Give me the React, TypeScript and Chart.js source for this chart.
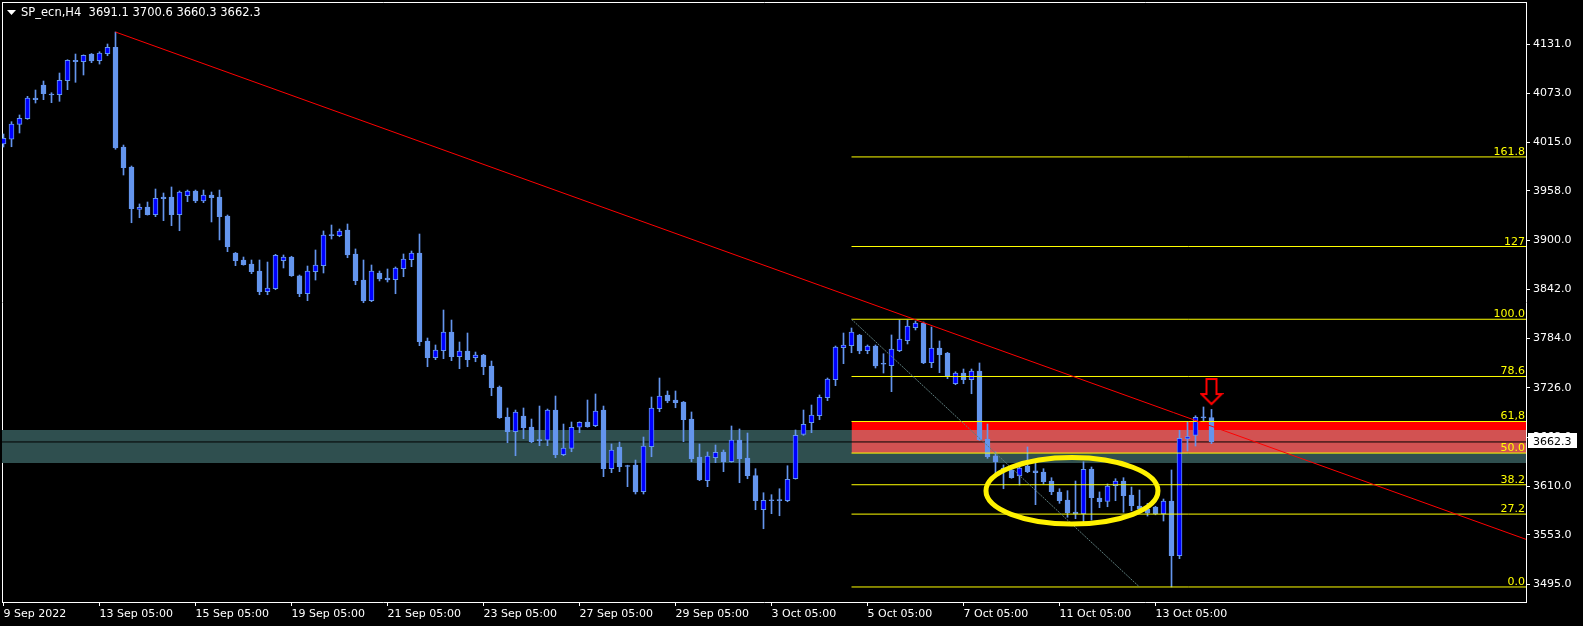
import React, { useEffect, useRef } from "react";
import { Chart, registerables } from "chart.js";
Chart.register(...registerables);

// ---- OHLC data (H4 bars, SP_ecn) ----
const opens = [4013.2,4018.8,4036.4,4043.0,4067.4,4082.7,4072.1,4071.3,4087.8,4111.8,4110.2,4119.2,4111.3,4119.6,4127.1,4009.7,3986.1,3936.3,3939.0,3930.0,3950.8,3950.8,3930.0,3952.3,3957.9,3946.1,3953.2,3950.8,3928.4,3884.8,3876.6,3871.9,3863.6,3839.3,3842.8,3875.8,3880.1,3858.1,3836.9,3862.8,3869.9,3906.6,3905.2,3911.9,3883.7,3853.0,3828.7,3861.3,3855.4,3853.4,3866.4,3877.0,3884.8,3781.2,3761.5,3769.8,3791.8,3762.7,3769.4,3761.5,3764.7,3751.8,3727.0,3691.7,3674.4,3692.9,3679.9,3665.0,3664.3,3699.9,3647.3,3654.8,3679.6,3685.8,3681.4,3699.9,3630.8,3656.4,3634.6,3635.2,3603.7,3656.7,3701.5,3717.6,3711.7,3709.4,3689.3,3644.6,3616.7,3643.8,3650.5,3639.0,3664.6,3643.4,3622.6,3582.5,3594.2,3594.4,3593.1,3619.0,3671.3,3685.0,3693.2,3714.4,3735.6,3773.3,3775.7,3788.3,3769.8,3775.3,3755.0,3752.1,3769.8,3781.6,3796.9,3802.4,3755.6,3773.0,3767.1,3730.9,3743.5,3735.6,3745.9,3665.8,3646.1,3631.6,3629.3,3622.2,3634.0,3628.4,3626.9,3616.3,3603.4,3593.9,3579.8,3577.4,3630.4,3596.3,3592.4,3610.8,3616.3,3599.8,3586.9,3583.0,3585.7,3577.4,3592.8,3528.3,3665.8,3670.1,3691.8,3691.1];
const highs = [4025.0,4039.5,4047.4,4069.4,4076.8,4087.4,4073.6,4096.8,4112.5,4119.2,4118.2,4119.8,4121.9,4131.0,4145.1,4012.0,3987.3,3942.6,3944.9,3960.2,3955.5,3962.6,3957.9,3959.0,3959.0,3959.0,3956.7,3959.0,3929.6,3885.5,3880.1,3876.6,3876.6,3874.2,3883.3,3882.5,3881.0,3858.9,3869.5,3888.4,3910.8,3917.8,3913.1,3919.0,3889.6,3876.6,3870.7,3863.6,3866.0,3868.4,3883.7,3887.2,3907.2,3784.7,3776.5,3817.7,3805.9,3780.0,3790.6,3768.2,3765.5,3757.6,3728.2,3702.3,3699.9,3702.3,3689.3,3704.6,3701.1,3716.4,3683.4,3685.8,3686.0,3711.7,3718.8,3704.6,3659.9,3662.2,3634.9,3641.0,3668.1,3715.2,3737.6,3722.3,3722.3,3710.0,3697.6,3659.9,3650.5,3658.7,3652.8,3681.1,3677.6,3672.8,3630.8,3602.5,3600.2,3607.2,3634.3,3676.4,3699.9,3705.8,3717.6,3737.6,3775.3,3790.6,3796.5,3789.0,3776.5,3776.5,3766.2,3788.3,3805.9,3805.9,3804.8,3803.6,3797.7,3781.2,3767.8,3745.0,3748.2,3748.2,3755.3,3683.4,3650.5,3635.2,3634.0,3635.2,3656.4,3640.2,3630.8,3620.2,3607.2,3604.9,3616.3,3639.0,3632.8,3603.4,3612.8,3619.0,3620.2,3609.2,3605.7,3590.0,3586.5,3595.1,3629.3,3676.0,3686.2,3693.2,3703.5,3700.6];
const lows = [4009.7,4010.0,4026.2,4042.3,4061.5,4065.4,4061.9,4063.5,4077.2,4085.9,4094.5,4109.0,4107.4,4117.2,4007.0,3976.7,3920.5,3926.4,3929.5,3927.6,3922.9,3917.0,3911.1,3945.3,3944.1,3944.1,3921.4,3900.2,3886.4,3869.9,3870.5,3860.5,3835.7,3835.7,3841.6,3867.2,3857.3,3833.4,3828.7,3853.0,3861.3,3901.3,3904.0,3879.3,3847.5,3826.3,3827.5,3851.9,3850.7,3836.9,3856.9,3868.7,3775.7,3750.9,3759.2,3760.4,3758.0,3748.6,3750.9,3756.8,3741.5,3716.8,3690.0,3661.4,3646.1,3666.1,3661.4,3657.9,3657.9,3643.8,3646.1,3650.8,3673.2,3679.6,3680.3,3621.4,3626.1,3627.3,3609.6,3601.0,3601.0,3644.9,3697.9,3708.5,3702.6,3662.6,3639.0,3616.7,3609.6,3637.9,3627.3,3638.5,3614.3,3619.0,3582.5,3560.1,3577.8,3575.4,3591.9,3618.5,3670.1,3673.2,3688.5,3710.9,3728.6,3754.5,3767.4,3766.2,3766.2,3749.4,3743.5,3721.5,3768.6,3777.7,3794.2,3754.5,3749.8,3743.9,3736.8,3729.7,3730.9,3719.1,3664.2,3643.0,3626.1,3607.2,3619.5,3611.6,3626.1,3588.4,3612.8,3600.2,3590.0,3573.6,3571.9,3568.0,3570.4,3584.9,3586.0,3593.1,3579.5,3581.3,3582.2,3575.0,3576.5,3569.2,3491.5,3524.8,3651.6,3657.5,3687.3,3660.3];
const closes = [4019.9,4036.8,4043.5,4067.4,4065.4,4072.5,4070.9,4088.2,4111.8,4110.2,4117.7,4111.0,4120.4,4127.1,4008.5,3985.3,3937.0,3938.7,3930.0,3949.3,3948.8,3930.0,3956.7,3957.9,3946.1,3953.2,3950.0,3927.6,3892.3,3875.8,3871.1,3862.8,3839.3,3843.6,3882.1,3880.1,3858.1,3836.9,3863.6,3870.7,3906.0,3905.4,3910.8,3882.5,3852.2,3828.3,3863.6,3854.2,3853.0,3867.2,3877.8,3884.8,3780.4,3761.5,3770.6,3791.8,3762.7,3769.4,3759.2,3764.7,3750.9,3726.2,3690.9,3674.4,3697.6,3679.1,3662.6,3663.8,3699.9,3647.3,3655.2,3679.6,3685.4,3680.3,3698.8,3630.8,3652.8,3633.2,3633.4,3603.4,3657.5,3702.3,3716.4,3710.5,3708.5,3688.5,3642.6,3617.5,3645.8,3650.1,3639.0,3664.6,3642.6,3622.6,3593.1,3593.6,3593.0,3593.2,3618.3,3670.1,3683.1,3694.0,3714.9,3736.4,3774.1,3776.5,3791.8,3769.4,3775.3,3751.8,3753.8,3771.8,3783.6,3798.9,3802.4,3755.3,3773.0,3765.1,3740.0,3743.5,3735.6,3745.9,3665.0,3644.9,3638.7,3626.9,3620.2,3631.6,3627.3,3626.1,3615.5,3603.7,3593.1,3579.0,3577.4,3630.1,3596.6,3591.9,3610.4,3616.3,3599.0,3587.2,3583.0,3578.5,3577.4,3592.8,3528.3,3666.6,3668.7,3691.3,3690.6,3662.3];

// ---- axis ticks ----
const xTickIndex = [0, 12, 24, 36, 48, 60, 72, 84, 96, 108, 120, 132, 144];
const xTickLabels = ["9 Sep 2022", "13 Sep 05:00", "15 Sep 05:00", "19 Sep 05:00", "21 Sep 05:00", "23 Sep 05:00", "27 Sep 05:00", "29 Sep 05:00", "3 Oct 05:00", "5 Oct 05:00", "7 Oct 05:00", "11 Oct 05:00", "13 Oct 05:00"];
const yTickValues = [4131, 4073, 4015, 3958, 3900, 3842, 3784, 3726, 3668, 3610, 3553, 3495];

// ---- objects ----
const fibLevels = [3491.5, 3577.3, 3611.9, 3649.2, 3686.4, 3739.4, 3806.8, 3892.5, 3998.0];
const fibLabels = ["0.0", "27.2", "38.2", "50.0", "61,8", "78.6", "100.0", "127", "161.8"];
const fibStartBar = 106;
const fibTrend = [{ x: 106, y: 3806.8 }, { x: 142, y: 3491.5 }];
const trendLine = [{ x: 14, y: 4145.1 }, { x: 190.3125, y: 3547.6 }];
const bandZone = [3676.4, 3637.5];
const redZone = [3686.4, 3649.2];
const bidPrice = 3662.3;
const ellipseMark = { x: 133.56, y: 3604.8, rx: 10.75, ry: 39.2 };
const arrowMark = [{ x: 151, y: 3721.1 }];
const headerText = "SP_ecn,H4  3691.1 3700.6 3660.3 3662.3";

const X_MIN = -0.1875;
const X_MAX = 190.3125;
const Y_MIN = 3473.8;
const Y_MAX = 4180.47;

const FONT = "DejaVu Sans";
const BULL = "#0000FF";
const BEAR = "#6495ED";

const noPad = (s: any) => {
  s.paddingLeft = 0;
  s.paddingRight = 0;
  s.paddingTop = 0;
  s.paddingBottom = 0;
};

export default function App() {
  const ref = useRef<HTMLCanvasElement>(null);
  useEffect(() => {
    const canvas = ref.current;
    if (!canvas) return;

    const arrow = document.createElement("canvas");
    arrow.width = 24;
    arrow.height = 28;
    const a = arrow.getContext("2d")!;
    a.strokeStyle = "#FF0000";
    a.lineWidth = 2;
    a.beginPath();
    a.moveTo(7, 1);
    a.lineTo(17, 1);
    a.lineTo(17, 16);
    a.lineTo(22, 16);
    a.lineTo(12, 26);
    a.lineTo(2, 16);
    a.lineTo(7, 16);
    a.closePath();
    a.stroke();

    const n = opens.length;
    const idx = Array.from({ length: n }, (_, i) => i);
    const colors = idx.map((i) => (closes[i] >= opens[i] ? BULL : BEAR));

    const overlay = {
      id: "overlay",
      afterDatasetsDraw(chart: any) {
        const ctx = chart.ctx;
        const xs = chart.scales.x;
        const ys = chart.scales.y;
        const cx = xs.getPixelForValue(ellipseMark.x);
        const cy = ys.getPixelForValue(ellipseMark.y);
        const rx = Math.abs(xs.getPixelForValue(ellipseMark.x + ellipseMark.rx) - cx);
        const ry = Math.abs(ys.getPixelForValue(ellipseMark.y + ellipseMark.ry) - cy);
        ctx.save();
        ctx.beginPath();
        ctx.ellipse(cx, cy, rx, ry, 0, 0, Math.PI * 2);
        ctx.lineWidth = 5;
        ctx.strokeStyle = "#FFF200";
        ctx.stroke();
        ctx.restore();
      },
      afterDraw(chart: any) {
        const ctx = chart.ctx;
        const ys = chart.scales.y;
        const area = chart.chartArea;
        ctx.save();
        ctx.font = `11px '${FONT}'`;
        // fib labels
        ctx.fillStyle = "#FFFF00";
        ctx.textAlign = "right";
        ctx.textBaseline = "alphabetic";
        fibLevels.forEach((lv, i) => {
          const y = ys.getPixelForValue(lv);
          ctx.fillText(fibLabels[i], area.right - 1, y - 2);
        });
        // header
        ctx.fillStyle = "#FFFFFF";
        ctx.beginPath();
        ctx.moveTo(7, 10);
        ctx.lineTo(16, 10);
        ctx.lineTo(11.5, 15);
        ctx.closePath();
        ctx.fill();
        ctx.font = `11.5px '${FONT}'`;
        ctx.textAlign = "left";
        ctx.textBaseline = "middle";
        ctx.fillText(headerText, 21, 13);
        // price box
        ctx.font = `11px '${FONT}'`;
        const by = ys.getPixelForValue(bidPrice);
        ctx.fillStyle = "#FFFFFF";
        ctx.fillRect(area.right + 2, Math.round(by) - 9, 49, 15);
        ctx.fillStyle = "#000000";
        ctx.fillText(bidPrice.toFixed(1), area.right + 7, by);
        ctx.restore();
      },
    };

    const fibSets = fibLevels.map((lv) => ({
      type: "line",
      data: [{ x: fibStartBar, y: lv }, { x: X_MAX, y: lv }],
      borderColor: "#FFFF00",
      borderWidth: 1,
      pointRadius: 0,
      fill: false,
      order: 40,
    }));

    const chart = new Chart(canvas, {
      type: "bar",
      data: {
        datasets: [
          {
            type: "line",
            data: [{ x: X_MIN, y: bandZone[0] }, { x: X_MAX, y: bandZone[0] }],
            borderColor: "transparent",
            borderWidth: 0,
            pointRadius: 0,
            backgroundColor: "#2F4F4F",
            fill: { value: bandZone[1] },
            order: 100,
          },
          {
            type: "line",
            data: [{ x: fibStartBar, y: redZone[0] }, { x: X_MAX, y: redZone[0] }],
            borderColor: "transparent",
            borderWidth: 0,
            pointRadius: 0,
            backgroundColor: "#FF0000",
            fill: { value: bandZone[0] },
            order: 95,
          },
          {
            type: "line",
            data: [{ x: fibStartBar, y: bandZone[0] }, { x: X_MAX, y: bandZone[0] }],
            borderColor: "transparent",
            borderWidth: 0,
            pointRadius: 0,
            backgroundColor: "#D25252",
            fill: { value: redZone[1] },
            order: 94,
          },
          {
            type: "line",
            data: [{ x: X_MIN, y: bidPrice }, { x: X_MAX, y: bidPrice }],
            borderColor: "#000000",
            borderWidth: 1,
            pointRadius: 0,
            fill: false,
            order: 80,
          },
          {
            type: "bar",
            data: idx.map((i) => ({ x: i, y: [lows[i], highs[i]] })),
            backgroundColor: BEAR,
            borderWidth: 0,
            barThickness: 1,
            grouped: false,
            order: 60,
          },
          {
            type: "bar",
            data: idx.map((i) => ({ x: i, y: [opens[i], closes[i]] })),
            backgroundColor: colors,
            borderColor: BEAR,
            borderWidth: 1,
            borderSkipped: false,
            barThickness: 5,
            grouped: false,
            order: 50,
          },
          ...fibSets,
          {
            type: "line",
            data: fibTrend,
            borderColor: "#5E7E7E",
            borderWidth: 1,
            borderDash: [2, 1],
            pointRadius: 0,
            fill: false,
            order: 35,
          },
          {
            type: "line",
            data: trendLine,
            borderColor: "#FF0000",
            borderWidth: 1,
            pointRadius: 0,
            fill: false,
            order: 30,
          },
          {
            type: "scatter",
            data: arrowMark,
            pointStyle: arrow,
            pointRadius: 12,
            order: 10,
          },
        ] as any,
      },
      options: {
        responsive: false,
        animation: false,
        events: [],
        layout: { padding: 0, autoPadding: false },
        plugins: { legend: { display: false }, tooltip: { enabled: false } },
        scales: {
          x: {
            type: "linear",
            position: "bottom",
            min: X_MIN,
            max: X_MAX,
            offset: false,
            grid: { display: true, drawOnChartArea: false, drawTicks: true, tickLength: 4, color: "#FFFFFF", offset: false },
            border: { display: true, color: "#FFFFFF", width: 1 },
            ticks: {
              color: "#FFFFFF",
              font: { family: FONT, size: 11 },
              autoSkip: false,
              maxRotation: 0,
              minRotation: 0,
              align: "start",
              padding: 2,
              callback: (_v: any, i: number) => xTickLabels[i] ?? "",
            },
            afterBuildTicks: (s: any) => {
              s.ticks = xTickIndex.map((v) => ({ value: v }));
            },
            afterFit: (s: any) => {
              s.height = 24;
              noPad(s);
            },
          },
          y: {
            type: "linear",
            position: "right",
            min: Y_MIN,
            max: Y_MAX,
            grid: { display: true, drawOnChartArea: false, drawTicks: true, tickLength: 4, color: "#FFFFFF" },
            border: { display: true, color: "#FFFFFF", width: 1 },
            ticks: {
              color: "#FFFFFF",
              font: { family: FONT, size: 11 },
              padding: 3,
              callback: (v: any) => Number(v).toFixed(1),
            },
            afterBuildTicks: (s: any) => {
              s.ticks = yTickValues.map((v) => ({ value: v }));
            },
            afterFit: (s: any) => {
              s.width = 57;
              noPad(s);
            },
          },
          xTop: {
            type: "linear",
            position: "top",
            min: 0,
            max: 1,
            grid: { display: false },
            ticks: { display: false },
            border: { display: true, color: "#FFFFFF", width: 1 },
            afterFit: (s: any) => {
              s.height = 2;
              noPad(s);
            },
          },
          yLeft: {
            type: "linear",
            position: "left",
            min: 0,
            max: 1,
            grid: { display: false },
            ticks: { display: false },
            border: { display: true, color: "#FFFFFF", width: 1 },
            afterFit: (s: any) => {
              s.width = 2;
              noPad(s);
            },
          },
        },
      } as any,
      plugins: [overlay],
    });
    return () => chart.destroy();
  }, []);

  return (
    <div style={{ position: "fixed", left: 0, top: 0, width: 1583, height: 626, background: "#000000" }}>
      <canvas ref={ref} width={1583} height={626} style={{ width: 1583, height: 626, display: "block" }} />
    </div>
  );
}
